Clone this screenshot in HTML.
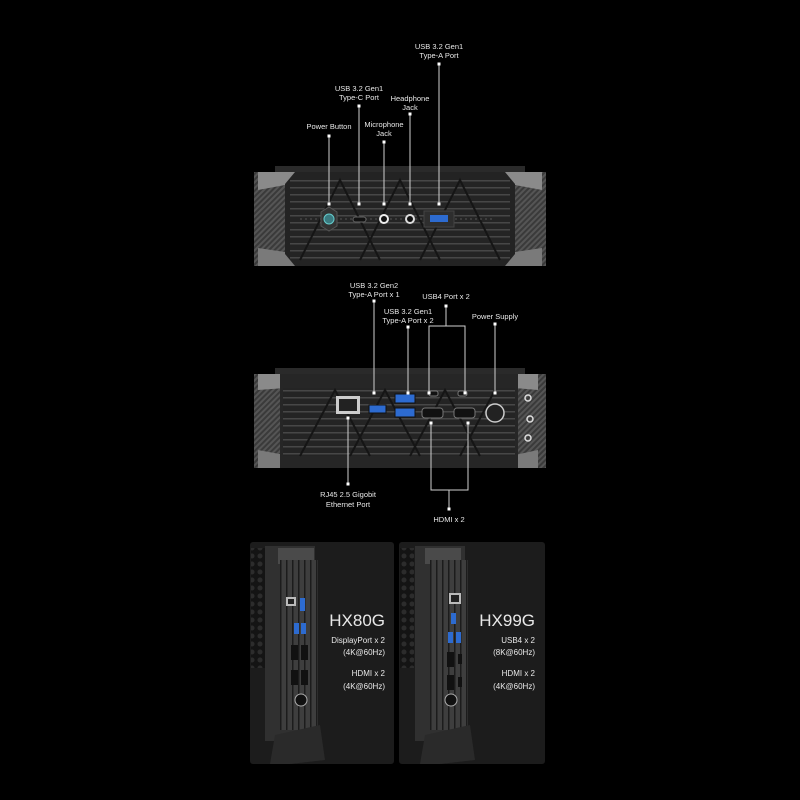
<!DOCTYPE html>
<html><head><meta charset="utf-8"><style>
html,body{margin:0;padding:0;background:#000;}
svg{display:block}
text{font-family:"Liberation Sans",sans-serif;fill:#e8e8e8}
</style></head><body>
<svg width="800" height="800" viewBox="0 0 800 800" xmlns="http://www.w3.org/2000/svg">
<defs>
<pattern id="hatch" width="4" height="4" patternUnits="userSpaceOnUse" patternTransform="rotate(45)">
<rect width="4" height="4" fill="#3a3a3a"/><rect width="2" height="4" fill="#555"/></pattern>
<pattern id="grill" width="6" height="7" patternUnits="userSpaceOnUse">
<rect width="6" height="7" fill="#242424"/><rect y="5" width="6" height="1.5" fill="#474747"/></pattern>
<pattern id="vgrill" width="6" height="6" patternUnits="userSpaceOnUse">
<rect width="6" height="6" fill="#3e3e3e"/><rect x="4" width="1.5" height="6" fill="#1c1c1c"/></pattern>
<pattern id="hex" width="8" height="8" patternUnits="userSpaceOnUse">
<rect width="8" height="8" fill="#141414"/><circle cx="4" cy="4" r="2.5" fill="#2c2c2c"/></pattern>
</defs>
<rect width="800" height="800" fill="#000"/>

<!-- ===== TOP DEVICE ===== -->
<g>
<rect x="275" y="166" width="250" height="6" fill="#2a2a2a"/>
<rect x="254" y="172" width="292" height="94" fill="url(#hatch)"/>
<polygon points="258,172 297,172 285,185 258,190" fill="#8a8a8a"/>
<polygon points="258,248 285,252 297,266 258,266" fill="#7a7a7a"/>
<polygon points="503,172 542,172 542,190 515,185" fill="#8a8a8a"/>
<polygon points="515,252 542,248 542,266 503,266" fill="#7a7a7a"/>
<polygon points="295,172 505,172 515,184 515,254 505,266 295,266 285,254 285,184" fill="#232323"/>
<rect x="290" y="180" width="220" height="80" fill="url(#grill)"/>
<g stroke="#151515" stroke-width="2" fill="none">
<path d="M300,260 L340,180 L380,260 M360,260 L400,180 L440,260 M420,260 L460,180 L500,260"/>
</g>
<line x1="300" y1="219" x2="495" y2="219" stroke="#555" stroke-width="1" stroke-dasharray="2,3"/>
<polygon points="321,212 329,207 337,212 337,226 329,231 321,226" fill="#333" stroke="#555"/>
<circle cx="329" cy="219" r="5" fill="#3a7a80" stroke="#6cc" stroke-width="1"/>
<rect x="353" y="217" width="13" height="5" rx="2.5" fill="#111" stroke="#666"/>
<circle cx="384" cy="219" r="5" fill="#eee"/><circle cx="384" cy="219" r="3" fill="#111"/>
<circle cx="410" cy="219" r="5" fill="#ddd"/><circle cx="410" cy="219" r="3" fill="#111"/>
<rect x="424" y="211" width="30" height="16" fill="#2e2e2e" stroke="#444"/>
<rect x="430" y="215" width="18" height="7" fill="#2d6bd0"/>
</g>
<g stroke="#cfcfcf" stroke-width="1">
<line x1="329" y1="136" x2="329" y2="204"/>
<line x1="359" y1="106" x2="359" y2="204"/>
<line x1="384" y1="142" x2="384" y2="204"/>
<line x1="410" y1="114" x2="410" y2="204"/>
<line x1="439" y1="64" x2="439" y2="204"/>
</g>
<g fill="#fff">
<rect x="327.5" y="134.5" width="3" height="3"/><rect x="327.5" y="202.5" width="3" height="3"/>
<rect x="357.5" y="104.5" width="3" height="3"/><rect x="357.5" y="202.5" width="3" height="3"/>
<rect x="382.5" y="140.5" width="3" height="3"/><rect x="382.5" y="202.5" width="3" height="3"/>
<rect x="408.5" y="112.5" width="3" height="3"/><rect x="408.5" y="202.5" width="3" height="3"/>
<rect x="437.5" y="62.5" width="3" height="3"/><rect x="437.5" y="202.5" width="3" height="3"/>
</g>
<g font-size="7.5" text-anchor="middle">
<text x="439" y="49">USB 3.2 Gen1</text><text x="439" y="58">Type-A Port</text>
<text x="359" y="91">USB 3.2 Gen1</text><text x="359" y="100">Type-C Port</text>
<text x="410" y="101">Headphone</text><text x="410" y="110">Jack</text>
<text x="329" y="129">Power Button</text>
<text x="384" y="127">Microphone</text><text x="384" y="136">Jack</text>
</g>

<!-- ===== SECOND DEVICE ===== -->
<g>
<rect x="275" y="368" width="250" height="6" fill="#2a2a2a"/>
<rect x="254" y="374" width="292" height="94" fill="url(#hatch)"/>
<polygon points="258,374 297,374 285,388 258,390" fill="#8a8a8a"/>
<polygon points="258,450 285,455 297,468 258,468" fill="#7a7a7a"/>
<polygon points="503,374 538,374 538,390 515,388" fill="#8a8a8a"/>
<polygon points="515,455 538,450 538,468 503,468" fill="#7a7a7a"/>
<rect x="280" y="374" width="238" height="94" fill="#262626"/>
<rect x="283" y="388" width="232" height="68" fill="url(#grill)"/>
<g stroke="#151515" stroke-width="2" fill="none">
<path d="M300,456 L335,390 L370,456 M350,456 L385,390 L420,456 M410,456 L445,390 L480,456 M460,456 L495,390"/>
</g>
<circle cx="528" cy="398" r="3" fill="none" stroke="#ddd" stroke-width="1.5"/>
<circle cx="530" cy="419" r="3" fill="none" stroke="#ddd" stroke-width="1.5"/>
<circle cx="528" cy="438" r="3" fill="none" stroke="#ddd" stroke-width="1.5"/>
<rect x="336" y="396" width="24" height="18" fill="#ccc"/>
<rect x="339" y="399" width="18" height="12" fill="#222"/>
<rect x="369" y="405" width="17" height="8" fill="#2d6bd0" stroke="#111"/>
<rect x="395" y="394" width="20" height="9" fill="#2d6bd0" stroke="#111"/>
<rect x="395" y="408" width="20" height="9" fill="#2d6bd0" stroke="#111"/>
<rect x="429" y="391" width="9" height="5" rx="2" fill="#111" stroke="#777"/>
<rect x="458" y="391" width="9" height="5" rx="2" fill="#111" stroke="#777"/>
<rect x="422" y="408" width="21" height="10" rx="3" fill="#111" stroke="#777"/>
<rect x="454" y="408" width="21" height="10" rx="3" fill="#111" stroke="#777"/>
<circle cx="495" cy="413" r="9" fill="#222" stroke="#ccc" stroke-width="1.5"/>
</g>
<g stroke="#cfcfcf" stroke-width="1" fill="none">
<line x1="374" y1="301" x2="374" y2="393"/>
<line x1="408" y1="327" x2="408" y2="393"/>
<line x1="446" y1="306" x2="446" y2="326"/>
<polyline points="429,393 429,326 465,326 465,393"/>
<line x1="495" y1="324" x2="495" y2="393"/>
<line x1="348" y1="418" x2="348" y2="484"/>
<polyline points="431,423 431,490 468,490 468,423"/>
<line x1="449" y1="490" x2="449" y2="509"/>
</g>
<g fill="#fff">
<rect x="372.5" y="299.5" width="3" height="3"/><rect x="372.5" y="391.5" width="3" height="3"/>
<rect x="406.5" y="325.5" width="3" height="3"/><rect x="406.5" y="391.5" width="3" height="3"/>
<rect x="444.5" y="304.5" width="3" height="3"/>
<rect x="427.5" y="391.5" width="3" height="3"/><rect x="463.5" y="391.5" width="3" height="3"/>
<rect x="493.5" y="322.5" width="3" height="3"/><rect x="493.5" y="391.5" width="3" height="3"/>
<rect x="346.5" y="416.5" width="3" height="3"/><rect x="346.5" y="482.5" width="3" height="3"/>
<rect x="429.5" y="421.5" width="3" height="3"/><rect x="466.5" y="421.5" width="3" height="3"/>
<rect x="447.5" y="507.5" width="3" height="3"/>
</g>
<g font-size="7.5" text-anchor="middle">
<text x="374" y="288">USB 3.2 Gen2</text><text x="374" y="297">Type-A Port x 1</text>
<text x="446" y="299">USB4 Port x 2</text>
<text x="408" y="314">USB 3.2 Gen1</text><text x="408" y="323">Type-A Port x 2</text>
<text x="495" y="319">Power Supply</text>
<text x="348" y="497">RJ45 2.5 Gigobit</text><text x="348" y="507">Ethernet Port</text>
<text x="449" y="522">HDMI x 2</text>
</g>

<!-- ===== BOTTOM PANELS ===== -->
<g>
<rect x="250" y="542" width="144" height="222" rx="3" fill="#1c1c1c"/>
<rect x="251" y="548" width="14" height="120" fill="url(#hex)"/>
<rect x="265" y="546" width="50" height="195" fill="#303030"/>
<rect x="278" y="548" width="36" height="16" fill="#4a4a4a"/>
<rect x="280" y="560" width="38" height="170" fill="url(#vgrill)"/>
<rect x="286" y="597" width="10" height="9" fill="#bbb"/><rect x="288" y="599" width="6" height="5" fill="#222"/>
<rect x="300" y="598" width="5" height="13" fill="#2d6bd0"/>
<rect x="294" y="623" width="5" height="11" fill="#2d6bd0"/><rect x="301" y="623" width="5" height="11" fill="#2d6bd0"/>
<rect x="291" y="645" width="7" height="15" fill="#111"/><rect x="301" y="645" width="7" height="15" fill="#111"/>
<rect x="291" y="670" width="7" height="15" fill="#111"/><rect x="301" y="670" width="7" height="15" fill="#111"/>
<circle cx="301" cy="700" r="6" fill="#111" stroke="#aaa"/>
<polygon points="275,735 320,725 325,760 290,764 270,764" fill="#2a2a2a"/>
<text x="385" y="626" font-size="17" text-anchor="end" fill="#f2f2f2">HX80G</text>
<g font-size="8" text-anchor="end">
<text x="385" y="643">DisplayPort x 2</text><text x="385" y="655">(4K@60Hz)</text>
<text x="385" y="676">HDMI x 2</text><text x="385" y="689">(4K@60Hz)</text>
</g>
</g>
<g>
<rect x="399" y="542" width="146" height="222" rx="3" fill="#1c1c1c"/>
<rect x="400" y="548" width="14" height="120" fill="url(#hex)"/>
<rect x="415" y="546" width="50" height="195" fill="#303030"/>
<rect x="425" y="548" width="36" height="16" fill="#4a4a4a"/>
<rect x="430" y="560" width="38" height="170" fill="url(#vgrill)"/>
<rect x="449" y="593" width="12" height="11" fill="#bbb"/><rect x="451" y="595" width="8" height="7" fill="#222"/>
<rect x="451" y="613" width="5" height="11" fill="#2d6bd0"/>
<rect x="448" y="632" width="5" height="11" fill="#2d6bd0"/><rect x="456" y="632" width="5" height="11" fill="#2d6bd0"/>
<rect x="447" y="652" width="7" height="15" fill="#111"/><rect x="458" y="654" width="4" height="10" fill="#111"/>
<rect x="447" y="675" width="7" height="15" fill="#111"/><rect x="458" y="677" width="4" height="10" fill="#111"/>
<circle cx="451" cy="700" r="6" fill="#111" stroke="#aaa"/>
<polygon points="425,735 470,725 475,760 440,764 420,764" fill="#2a2a2a"/>
<text x="535" y="626" font-size="17" text-anchor="end" fill="#f2f2f2">HX99G</text>
<g font-size="8" text-anchor="end">
<text x="535" y="643">USB4 x 2</text><text x="535" y="655">(8K@60Hz)</text>
<text x="535" y="676">HDMI x 2</text><text x="535" y="689">(4K@60Hz)</text>
</g>
</g>
</svg>
</body></html>
